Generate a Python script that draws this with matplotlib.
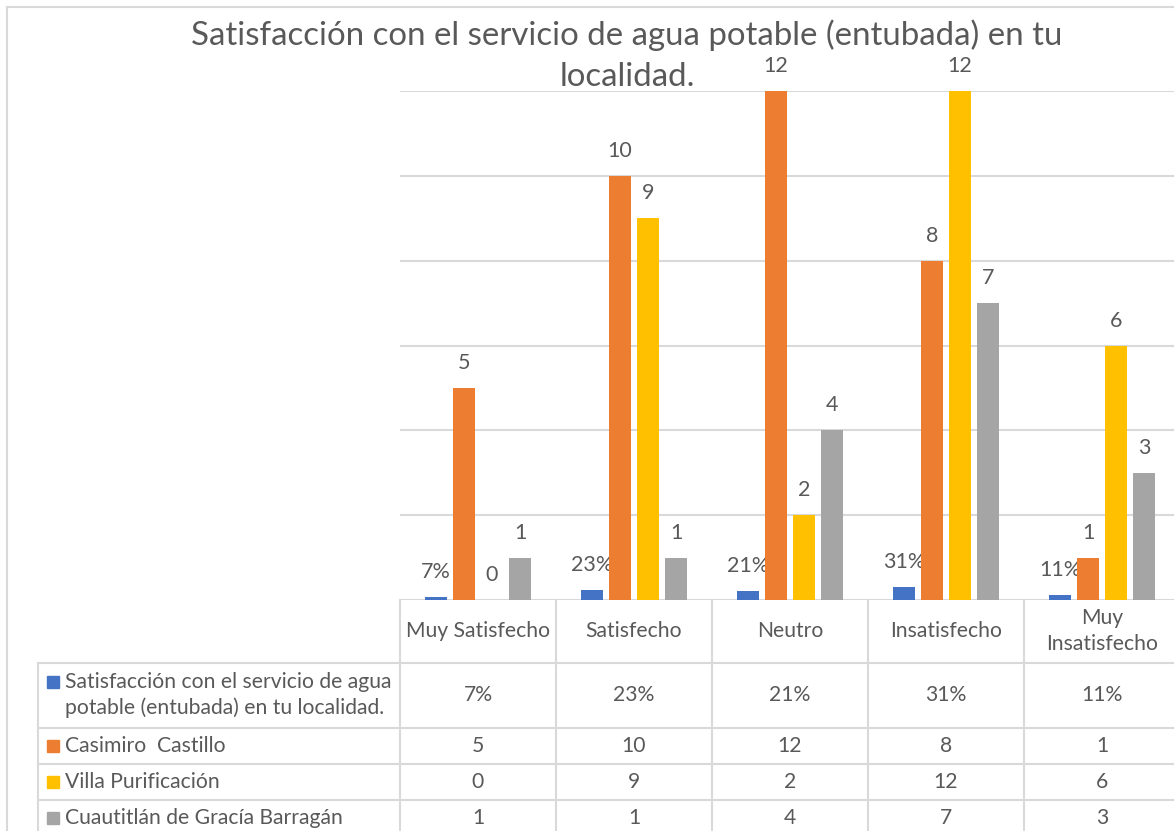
import matplotlib
matplotlib.use("Agg")
import matplotlib.pyplot as plt
import numpy as np

plt.rcParams['font.family'] = ['Lato', 'DejaVu Sans']

categorias = ['Muy Satisfecho', 'Satisfecho', 'Neutro', 'Insatisfecho', 'Muy\nInsatisfecho']
series = ['Satisfacción con el servicio de agua\npotable (entubada) en tu localidad.',
          'Casimiro  Castillo', 'Villa Purificación', 'Cuautitlán de Gracía Barragán']
porcentaje = [0.07, 0.23, 0.21, 0.31, 0.11]
casimiro = [5, 10, 12, 8, 1]
villa = [0, 9, 2, 12, 6]
cuautitlan = [1, 1, 4, 7, 3]
colores = ['#4472C4', '#ED7D31', '#FFC000', '#A5A5A5']
texto = '#595959'
linea = '#D9D9D9'

W, H = 1174, 831
fig = plt.figure(figsize=(W / 100, H / 100), dpi=100)


def fx(x):
    return x / W


def fy(y):
    return 1 - y / H


# plot area (pixels): left 400, top 91 (=12), bottom 600 (=0); category width 156
cw = 156
ax = fig.add_axes([fx(400), fy(600), (W - 400) / W, 509 / H])
ax.set_xlim(-0.5, -0.5 + (W - 400) / cw)
ax.set_ylim(0, 12)
ax.set_yticks(np.arange(0, 13, 2))
ax.yaxis.grid(True, color=linea, lw=1.5)
ax.set_axisbelow(True)
for s in ax.spines.values():
    s.set_visible(False)
ax.tick_params(left=False, bottom=False, labelleft=False, labelbottom=False)

x = np.arange(len(categorias))
step = 28 / cw
bw = 22 / cw
valores = [porcentaje, casimiro, villa, cuautitlan]
for j, vals in enumerate(valores):
    pos = x + (j - 1.5) * step
    ax.bar(pos, vals, width=bw, color=colores[j], zorder=3)
    for p, v in zip(pos, vals):
        etiqueta = f'{round(v * 100)}%' if j == 0 else f'{v}'
        ax.annotate(etiqueta, (p, v), xytext=(0, 25), textcoords='offset pixels',
                    ha='center', va='center', fontsize=15.5, color=texto,
                    annotation_clip=False)

# title
fig.text(fx(627), fy(35), 'Satisfacción con el servicio de agua potable (entubada) en tu',
         ha='center', va='center', fontsize=23.8, color=texto)
fig.text(fx(627), fy(77), 'localidad.', ha='center', va='center', fontsize=23.8, color=texto)

# outer chart border
fig.add_artist(plt.Line2D([fx(7), fx(7)], [fy(7), 0], color=linea, lw=1.5))
fig.add_artist(plt.Line2D([fx(7), 1], [fy(7), fy(7)], color=linea, lw=1.5))

# data table
cols = [400 + cw * i for i in range(len(categorias))]
for c in cols:
    fig.add_artist(plt.Line2D([fx(c), fx(c)], [fy(600), 0], color=linea, lw=1.5))
fig.add_artist(plt.Line2D([fx(38), fx(38)], [fy(663), 0], color=linea, lw=1.5))
for r in [663, 728, 764, 800]:
    fig.add_artist(plt.Line2D([fx(38), 1], [fy(r), fy(r)], color=linea, lw=1.5))

for i, cat in enumerate(categorias):
    fig.text(fx(cols[i] + cw / 2), fy(631), cat, ha='center', va='center',
             fontsize=15.2, color=texto, linespacing=1.4)

filas_y = [695, 746, 782, 818]
for k, nombre in enumerate(series):
    yc = filas_y[k]
    sq_y = yc - 13 if k == 0 else yc
    fig.add_artist(plt.Rectangle((fx(47), fy(sq_y + 6)), 12 / W, 12 / H,
                                 color=colores[k], transform=fig.transFigure))
    fig.text(fx(65), fy(yc), nombre, ha='left', va='center', fontsize=15.2,
             color=texto, linespacing=1.35)
    for i, v in enumerate(valores[k]):
        etiqueta = f'{round(v * 100)}%' if k == 0 else f'{v}'
        fig.text(fx(cols[i] + cw / 2), fy(yc), etiqueta, ha='center', va='center',
                 fontsize=15.2, color=texto)

fig.savefig('out.png', dpi=100)
